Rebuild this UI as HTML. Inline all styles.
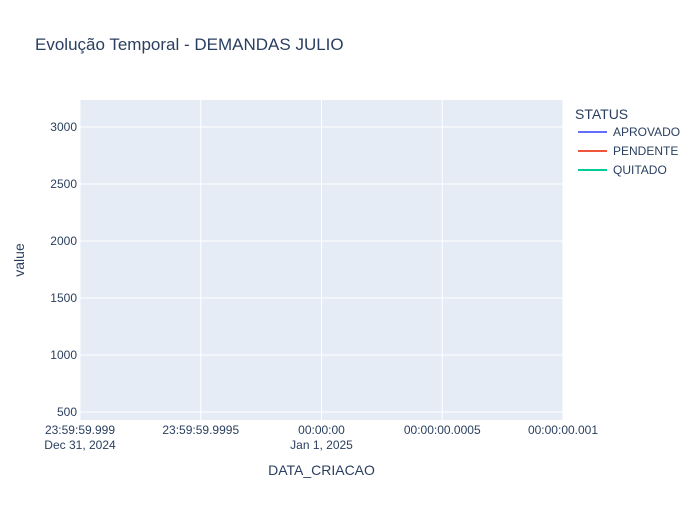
<!DOCTYPE html>
<html><head><meta charset="utf-8"><style>
body{margin:0;background:#fff;font-family:"Liberation Sans",Arial,sans-serif;}
svg text{font-family:"Liberation Sans",Arial,sans-serif;fill:#2a3f5f;}
</style></head><body>
<svg id="chart" width="700" height="500">
<rect x="0" y="0" width="700" height="500" fill="#fff"/>
<text x="35" y="50" font-size="17">Evolução Temporal - DEMANDAS JULIO</text>
<rect x="80" y="100" width="483" height="320" fill="#e5ecf6"/>
<g id="grid"></g>
<g id="marks"></g>
<g id="xticks"></g>
<g id="yticks"></g>
<text x="321.5" y="475" font-size="14" text-anchor="middle">DATA_CRIACAO</text>
<text transform="translate(24,260) rotate(-90)" font-size="14" text-anchor="middle">value</text>
<g id="legend">
<text x="575" y="119" font-size="14">STATUS</text>
</g>
</svg>
<script>
const categories = ["APROVADO","PENDENTE","QUITADO"];
const colors = ["#636efa","#EF553B","#00cc96"];
const seriesTimes = [[0],[0],[0]];
const seriesValues = [[1800],[1800],[1800]];
const xTickVals = [-1,-0.5,0,0.5,1];
const xTickLine1 = ["23:59:59.999","23:59:59.9995","00:00:00","00:00:00.0005","00:00:00.001"];
const xTickLine2 = ["Dec 31, 2024","","Jan 1, 2025","",""];
const yTicks = [500,1000,1500,2000,2500,3000];
const xMin=-1,xMax=1,yMin=430,yMax=3237;
const X=v=>80+(v-xMin)/(xMax-xMin)*483;
const Y=v=>420-(v-yMin)/(yMax-yMin)*320;
const NS="http://www.w3.org/2000/svg";
function mk(t,a,p){const e=document.createElementNS(NS,t);for(const k in a)e.setAttribute(k,a[k]);p.appendChild(e);return e;}
const grid=document.getElementById('grid'),xt=document.getElementById('xticks'),yt=document.getElementById('yticks');
xTickVals.forEach((v,i)=>{
 const l=mk('line',{x1:X(v),x2:X(v),y1:100,y2:420,stroke:'#fff','stroke-width':1},grid);
 
 
 const t=mk('text',{x:X(v),y:434,'font-size':12,'text-anchor':'middle'},xt);
 t.textContent=xTickLine1[i];
 
 
 if(xTickLine2[i]){const t2=mk('text',{x:X(v),y:449,'font-size':12,'text-anchor':'middle'},xt);
 t2.textContent=xTickLine2[i];
 
 }
});
yTicks.forEach(v=>{
 const l=mk('line',{x1:80,x2:563,y1:Y(v),y2:Y(v),stroke:'#fff','stroke-width':1},grid);
 
 
 const t=mk('text',{x:77,y:Y(v)+4,'font-size':12,'text-anchor':'end'},yt);
 t.textContent=v;
 
 
});
const marks=document.getElementById('marks');
categories.forEach((c,i)=>{
 const pts=seriesTimes[i].map((t,j)=>(j?'L':'M')+X(t)+','+Y(seriesValues[i][j])).join('');
 const p=mk('path',{d:pts,fill:'none',stroke:colors[i],'stroke-width':2},marks);
 
 
});
const lg=document.getElementById('legend');
categories.forEach((c,i)=>{
 const y=132+i*19;
 const l=mk('line',{x1:578,x2:607,y1:y,y2:y,stroke:colors[i],'stroke-width':2},lg);
 
 
 const t=mk('text',{x:613,y:y+4,'font-size':12},lg);
 t.textContent=c;
 
 
});
</script>
</body></html>
